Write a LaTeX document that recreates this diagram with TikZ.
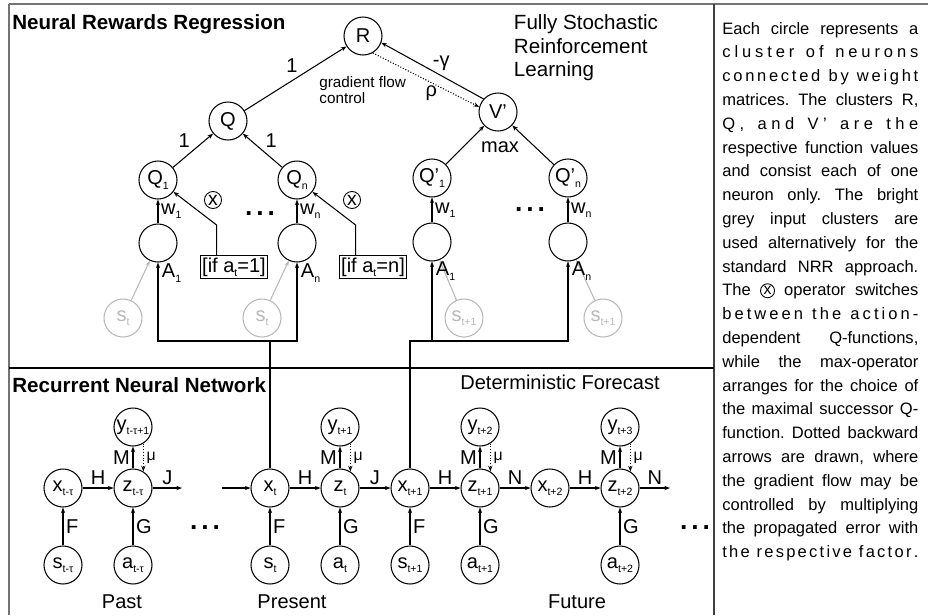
\documentclass[tikz,border=0pt]{standalone}
\usepackage{fontspec}
\setmainfont{Liberation Sans}
\usetikzlibrary{arrows.meta, positioning, calc}
\definecolor{inputgrey}{gray}{0.72}
\definecolor{framegrey}{gray}{0.45}
\newcommand{\low}[1]{\raisebox{-0.4ex}{\fontsize{6}{6}\selectfont #1}}
\newcommand{\nodefont}{\fontsize{11.4}{12}\selectfont}
\newcommand{\dotsfont}{\fontsize{15}{15}\selectfont\bfseries}
\newcommand{\threedots}{.\hspace{2.2pt}.\hspace{2.2pt}.}
\newcommand{\opx}{\tikz[baseline={([yshift=-0.5pt]opx.base)}]\node[circle, draw, line width=0.5pt, inner sep=0.5pt, font=\fontsize{9}{9}\selectfont] (opx) {x};}
\newlength{\panelw}
\setlength{\panelw}{39.2mm}
\newcommand{\jl}[1]{\makebox[\panelw][s]{#1}}
\makeatletter
\newcommand{\lsword}[1]{\@tfor\lsch:=#1\do{\lsch\hfil}}
\newcommand{\sjl}[1]{\makebox[\panelw][s]{\@for\lsw:=#1\do{\expandafter\lsword\expandafter{\lsw}\hfil\hfil}\unskip\unskip\unskip}}
\makeatother
\frenchspacing
\tikzset{
  neuron/.style={circle, draw, line width=0.6pt, minimum size=7.6mm, inner sep=0pt, font=\nodefont},
  faint/.style={neuron, draw=inputgrey, text=inputgrey},
  arr/.style={-{Stealth[length=3.2pt,width=2.4pt]}, line width=0.6pt},
  dotarr/.style={arr, densely dotted},
  greyarr/.style={arr, inputgrey},
  lbl/.style={font=\nodefont, inner sep=1.5pt},
  title/.style={font=\fontsize{11.7}{12}\selectfont\bfseries, inner sep=0pt},
  cond/.style={draw, rectangle, line width=0.6pt, inner sep=1.2pt, font=\nodefont},
  switch/.style={circle, draw, line width=0.5pt, inner sep=0.6pt, font=\fontsize{11}{11}\selectfont},
  paneltext/.style={font=\fontsize{9.4}{11}\selectfont, inner sep=0pt}
}

\begin{document}
\begin{tikzpicture}[x=0.2mm, y=-0.2mm]
  \useasboundingbox (0,0) rectangle (928,615);

  % Rahmen
  \draw[framegrey, line width=1.1pt] (9,4) -- (928,4);
  \draw[framegrey, line width=0.6pt] (9,4) -- (9,615);
  \draw[black!75, line width=1.1pt] (714,4) -- (714,615);
  \draw[line width=0.6pt] (9,368) -- (714,368);

  % Titel
  \node[title, anchor=west] (nrrtitle) at (12,24) {Neural Rewards Regression};
  \node[title, anchor=west] (rnntitle) at (12,385) {Recurrent Neural Network};
  \node[lbl, anchor=west, align=left, font=\fontsize{11.7}{13.4}\selectfont] (fsrl) at (511,48) {Fully Stochastic\\Reinforcement\\Learning};
  \node[lbl] (detf) at (560,382) {Deterministic Forecast};

  % Neural Rewards Regression
  \node[neuron] (R) at (363,36) {R};
  \node[neuron] (Q) at (228,121) {Q};
  \node[neuron] (Vp) at (498,112) {V'};
  \node[neuron] (Q1) at (158,180) {Q\low{1}};
  \node[neuron] (Qn) at (297,180) {Q\low{n}};
  \node[neuron] (Qp1) at (432,178) {Q'\low{1}};
  \node[neuron] (Qpn) at (568,178) {Q'\low{n}};
  \node[neuron] (h1) at (158,243) {};
  \node[neuron] (hn) at (297,243) {};
  \node[neuron] (hp1) at (432,242) {};
  \node[neuron] (hpn) at (568,242) {};
  \node[faint] (s1) at (123,318) {s\low{t}};
  \node[faint] (sn) at (262,318) {s\low{t}};
  \node[faint] (sp1) at (464,318) {s\low{t+1}};
  \node[faint] (spn) at (603,318) {s\low{t+1}};
  \node[cond] (if1) at (234,267) {[if a\low{t}=1]};
  \node[cond] (ifn) at (373,267) {[if a\low{t}=n]};
  \node[switch] (sw1) at (213,200) {x};
  \node[switch] (swn) at (352,200) {x};
  \node[lbl, font=\dotsfont] (dots1) at (260,214) {\threedots};
  \node[lbl, font=\dotsfont] (dots2) at (530,210) {\threedots};
  \node[lbl] (maxop) at (500,147) {max};
  \node[anchor=west, align=left, inner sep=0pt, font=\fontsize{8.7}{8}\selectfont] (gfc) at (319,90) {gradient flow\\control};

  \draw[arr] (Q) -- node[lbl, above left, pos=.55] (oneR) {1} (R);
  \draw[arr] (Q1) -- node[lbl, above left] (oneQ1) {1} (Q);
  \draw[arr] (Qn) -- node[lbl, above right] (oneQn) {1} (Q);
  \draw[arr] (Vp.138) -- node[lbl, above right, inner sep=0pt, pos=.5] (gam) {-γ} (R.-20);
  \draw[dotarr] (R.-60) -- node[lbl, below, pos=.55] (rho) {ρ} (Vp.165);
  \draw[arr] (Qp1) -- (Vp);
  \draw[arr] (Qpn) -- (Vp);

  \draw[arr] (h1) -- node[lbl, right] (w1) {w\low{1}} (Q1);
  \draw[arr] (hn) -- node[lbl, right] (wn) {w\low{n}} (Qn);
  \draw[arr] (hp1) -- node[lbl, right] (wp1) {w\low{1}} (Qp1);
  \draw[arr] (hpn) -- node[lbl, right] (wpn) {w\low{n}} (Qpn);

  \draw[arr] ($(if1.north west)+(17,0)$) -- ++(0,-30) -- (Q1);
  \draw[arr] ($(ifn.north west)+(17,0)$) -- ++(0,-30) -- (Qn);

  \draw[greyarr] (s1) -- (h1);
  \draw[greyarr] (sn) -- (hn);
  \draw[greyarr] (sp1) -- (hp1);
  \draw[greyarr] (spn) -- (hpn);

  \node[lbl, anchor=west] (A1) at (159,273) {A\low{1}};
  \node[lbl, anchor=west] (An) at (298,273) {A\low{n}};
  \node[lbl, anchor=west] (Ap1) at (433,271) {A\low{1}};
  \node[lbl, anchor=west] (Apn) at (569,271) {A\low{n}};

  % Recurrent Neural Network
  \node[neuron] (xa) at (63,488) {x\low{t-τ}};
  \node[neuron] (za) at (133,488) {z\low{t-τ}};
  \node[neuron] (ya) at (133,427) {y\low{t-τ+1}};
  \node[neuron] (sa) at (63,565) {s\low{t-τ}};
  \node[neuron] (aa) at (133,565) {a\low{t-τ}};

  \node[neuron] (xt) at (270,488) {x\low{t}};
  \node[neuron] (zt) at (340,488) {z\low{t}};
  \node[neuron] (yt) at (340,427) {y\low{t+1}};
  \node[neuron] (st) at (270,565) {s\low{t}};
  \node[neuron] (at) at (340,565) {a\low{t}};

  \node[neuron] (xt1) at (410,488) {x\low{t+1}};
  \node[neuron] (zt1) at (480,488) {z\low{t+1}};
  \node[neuron] (yt1) at (480,427) {y\low{t+2}};
  \node[neuron] (st1) at (410,565) {s\low{t+1}};
  \node[neuron] (at1) at (480,565) {a\low{t+1}};

  \node[neuron] (xt2) at (550,488) {x\low{t+2}};
  \node[neuron] (zt2) at (620,488) {z\low{t+2}};
  \node[neuron] (yt2) at (620,427) {y\low{t+3}};
  \node[neuron] (at2) at (620,565) {a\low{t+2}};

  \coordinate (jout) at (182,488);
  \coordinate (jin) at (222,488);
  \coordinate (nout) at (670,488);

  \draw[arr] (sa) -- node[lbl, right] (fa) {F} (xa);
  \draw[arr] (aa) -- node[lbl, right] (ga) {G} (za);
  \draw[arr] (st) -- node[lbl, right] (ft) {F} (xt);
  \draw[arr] (at) -- node[lbl, right] (gt) {G} (zt);
  \draw[arr] (st1) -- node[lbl, right] (ft1) {F} (xt1);
  \draw[arr] (at1) -- node[lbl, right] (gt1) {G} (zt1);
  \draw[arr] (at2) -- node[lbl, right] (gt2) {G} (zt2);

  \draw[arr] (xa) -- node[lbl, above] (ha) {H} (za);
  \draw[arr] (za) -- node[lbl, above] (ja) {J} (jout);
  \draw[arr] (jin) -- (xt);
  \draw[arr] (xt) -- node[lbl, above] (ht) {H} (zt);
  \draw[arr] (zt) -- node[lbl, above] (jt) {J} (xt1);
  \draw[arr] (xt1) -- node[lbl, above] (ht1) {H} (zt1);
  \draw[arr] (zt1) -- node[lbl, above] (nt1) {N} (xt2);
  \draw[arr] (xt2) -- node[lbl, above] (ht2) {H} (zt2);
  \draw[arr] (zt2) -- node[lbl, above] (nt2) {N} (nout);

  \foreach \y/\z in {ya/za, yt/zt, yt1/zt1, yt2/zt2} {
    \draw[arr] (\z) -- node[lbl, left] (m\z) {M} (\y);
    \draw[dotarr] (\y.-58) -- node[lbl, right, font=\fontsize{9}{9}\selectfont] (mu\z) {μ} (\z.58);
  }

  \node[lbl, font=\dotsfont] (dots3) at (205,528) {\threedots};
  \node[lbl, font=\dotsfont] (dots4) at (695,528) {\threedots};

  \node[lbl] (past) at (122,602) {Past};
  \node[lbl] (present) at (292,602) {Present};
  \node[lbl] (future) at (577,602) {Future};

  % Verbindungen zwischen den Teilnetzen
  \coordinate (busL) at (270,341);
  \coordinate (busR) at (410,341);
  \draw[arr] (xt) -- (busL) -| (h1);
  \draw[arr] (busL) -| (hn);
  \draw[arr] (xt1) -- (busR) -| (hp1);
  \draw[arr] (busR) -| (hpn);

  % Erlaeuterung
  \foreach \txt [count=\i] in {
    {\jl{Each circle represents a}},
    {\sjl{cluster,of,neurons}},
    {\sjl{connected,by,weight}},
    {\jl{matrices. The clusters R,}},
    {\sjl{{Q,},and,V',are,the}},
    {\jl{respective function values}},
    {\jl{and consist each of one}},
    {\jl{neuron only. The bright}},
    {\jl{grey input clusters are}},
    {\jl{used alternatively for the}},
    {\jl{standard NRR approach.}},
    {\jl{The \opx{} operator switches}},
    {\sjl{between,the,action-}},
    {\jl{dependent Q-functions,}},
    {\jl{while the max-operator}},
    {\jl{arranges for the choice of}},
    {\jl{the maximal successor Q-}},
    {\jl{function. Dotted backward}},
    {\jl{arrows are drawn, where}},
    {\jl{the gradient flow may be}},
    {\jl{controlled by multiplying}},
    {\jl{the propagated error with}},
    {\sjl{the,respective,factor.}}}
    \node[paneltext, anchor=base west] (line\i) at (722,{34+(\i-1)*23.8}) {\txt};
\end{tikzpicture}
\end{document}
